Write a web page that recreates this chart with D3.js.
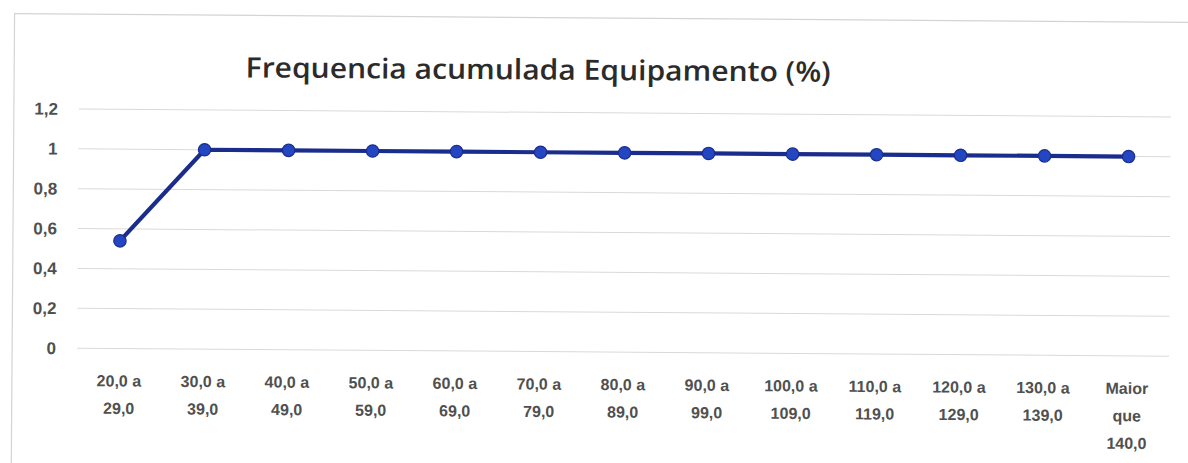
<!DOCTYPE html>
<html>
<head>
<meta charset="utf-8">
<script src="https://cdn.jsdelivr.net/npm/d3@7"></script>
<style>
  html, body { margin: 0; padding: 0; background: #ffffff; }
  svg { display: block; }
</style>
</head>
<body>
<svg id="chart" width="1188" height="463"></svg>
<script>
const title = "Frequencia acumulada Equipamento (%)";
const categories = [
  "20,0 a\n29,0", "30,0 a\n39,0", "40,0 a\n49,0", "50,0 a\n59,0",
  "60,0 a\n69,0", "70,0 a\n79,0", "80,0 a\n89,0", "90,0 a\n99,0",
  "100,0 a\n109,0", "110,0 a\n119,0", "120,0 a\n129,0", "130,0 a\n139,0",
  "Maior\nque\n140,0"
];
const values = [0.54, 1, 1, 1, 1, 1, 1, 1, 1, 1, 1, 1, 1];
const yTicks = [0, 0.2, 0.4, 0.6, 0.8, 1, 1.2];
const yTickLabels = ["0", "0,2", "0,4", "0,6", "0,8", "1", "1,2"];

const svg = d3.select("#chart");
// the photographed chart is slightly tilted
const g = svg.append("g").attr("transform", "rotate(0.42,600,232)");

g.append("rect")
  .attr("x", 13).attr("y", 18).attr("width", 1220).attr("height", 500)
  .attr("fill", "#ffffff").attr("stroke", "#d4d4d4").attr("stroke-width", 1.2);

const x = d3.scaleBand().domain(categories).range([78, 1170]);
const y = d3.scaleLinear().domain([0, 1.2]).range([352, 112.8]);

// gridlines
g.append("g").selectAll("line").data(yTicks).join("line")
  .attr("x1", 78).attr("x2", 1170)
  .attr("y1", d => y(d)).attr("y2", d => y(d))
  .attr("stroke", "#d9d9d9").attr("stroke-width", 1);

// y axis labels
const yAxis = d3.axisLeft(y).tickValues(yTicks)
  .tickFormat((d, i) => yTickLabels[i]).tickSize(0).tickPadding(0);
const ya = g.append("g").attr("transform", "translate(57,0)").call(yAxis);
ya.select(".domain").remove();
ya.selectAll("text")
  .attr("font-family", "'Liberation Sans', Arial, sans-serif")
  .attr("font-size", 17).attr("fill", "#505050").attr("font-weight", "bold");

// x axis labels
const xAxis = d3.axisBottom(x).tickSize(0).tickPadding(0).tickFormat("");
const xa = g.append("g").attr("transform", "translate(0,390)").call(xAxis);
xa.select(".domain").remove();
xa.selectAll(".tick").each(function(d) {
  const t = d3.select(this).append("text")
    .attr("text-anchor", "middle")
    .attr("font-family", "'Liberation Sans', Arial, sans-serif")
    .attr("font-size", 16).attr("font-weight", "bold").attr("fill", "#505050");
  d.split("\n").forEach((line, i) => {
    t.append("tspan").attr("x", 0).attr("y", i * 27.5).text(line);
  });
});

// line
const cx = d => x(d) + x.bandwidth() / 2;
const line = d3.line().x((d, i) => cx(categories[i])).y(d => y(d));
g.append("path").datum(values)
  .attr("d", line).attr("fill", "none")
  .attr("stroke", "#1b2d8c").attr("stroke-width", 4.2)
  .attr("stroke-linejoin", "round");

g.append("g").selectAll("circle").data(values).join("circle")
  .attr("cx", (d, i) => cx(categories[i]))
  .attr("cy", d => y(d))
  .attr("r", 6.2)
  .attr("fill", "#2346c2").attr("stroke", "#1b2d8c").attr("stroke-width", 1.2);

// title
const tt = g.append("text")
  .attr("x", 537).attr("y", 80)
  .attr("text-anchor", "middle")
  .attr("font-family", "'Open Sans', 'Liberation Sans', sans-serif")
  .attr("font-size", 28).attr("font-weight", 600).attr("fill", "#2b2b2b")
  .text(title);
tt.attr("textLength", 585).attr("lengthAdjust", "spacingAndGlyphs");
</script>
</body>
</html>
